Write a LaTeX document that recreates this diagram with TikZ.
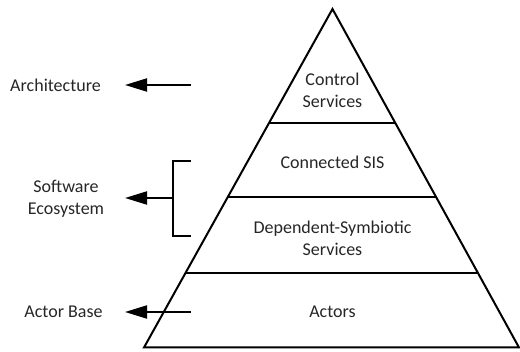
\documentclass[tikz,border=0pt]{standalone}
\usepackage{fontspec}
\setmainfont{Carlito}
\usetikzlibrary{arrows.meta,calc}
\begin{document}
\begin{tikzpicture}[x=1pt,y=-1pt,
  lbl/.style={font=\fontsize{18}{22}\selectfont, text=black!85, align=center, inner sep=0pt},
  edge/.style={line width=2pt, line join=miter},
  arr/.style={line width=2pt, -{Triangle[length=22pt,width=13pt]}}]
\useasboundingbox (0,0) rectangle (520,352);
\coordinate (A) at (332.5,9);
\coordinate (BL) at (144,347.5);
\coordinate (BR) at (519,347.5);
\draw[edge] (A) -- (BL) -- (BR) -- cycle;
\foreach \t/\n in {0.336/l1,0.556/l2,0.781/l3}{
  \draw[edge] ($(A)!\t!(BL)$) -- ($(A)!\t!(BR)$);
}
\node[lbl] (cs) at (332.5,90) {Control\\Services};
\node[lbl] (sis) at (332.5,162) {Connected SIS};
\node[lbl] (dss) at (332.5,238) {Dependent-Symbiotic\\Services};
\node[lbl] (act) at (332.5,312) {Actors};
\node[lbl] (arch) at (55.5,85) {Architecture};
\node[lbl] (soft) at (66,198.5) {Software\\Ecosystem};
\node[lbl] (base) at (63.5,312) {Actor Base};
\coordinate (a1s) at (190.5,85);
\coordinate (a1t) at (125,85);
\coordinate (a2s) at (172.5,198);
\coordinate (a2t) at (125,198);
\coordinate (a3s) at (190.5,312);
\coordinate (a3t) at (125,312);
\coordinate (bt) at (190.5,161);
\coordinate (bb) at (190.5,236);
\draw[arr] (a1s) -- (a1t);
\draw[arr] (a2s) -- (a2t);
\draw[arr] (a3s) -- (a3t);
\draw[edge] (bt) -| (a2s) |- (bb);
\end{tikzpicture}
\end{document}
